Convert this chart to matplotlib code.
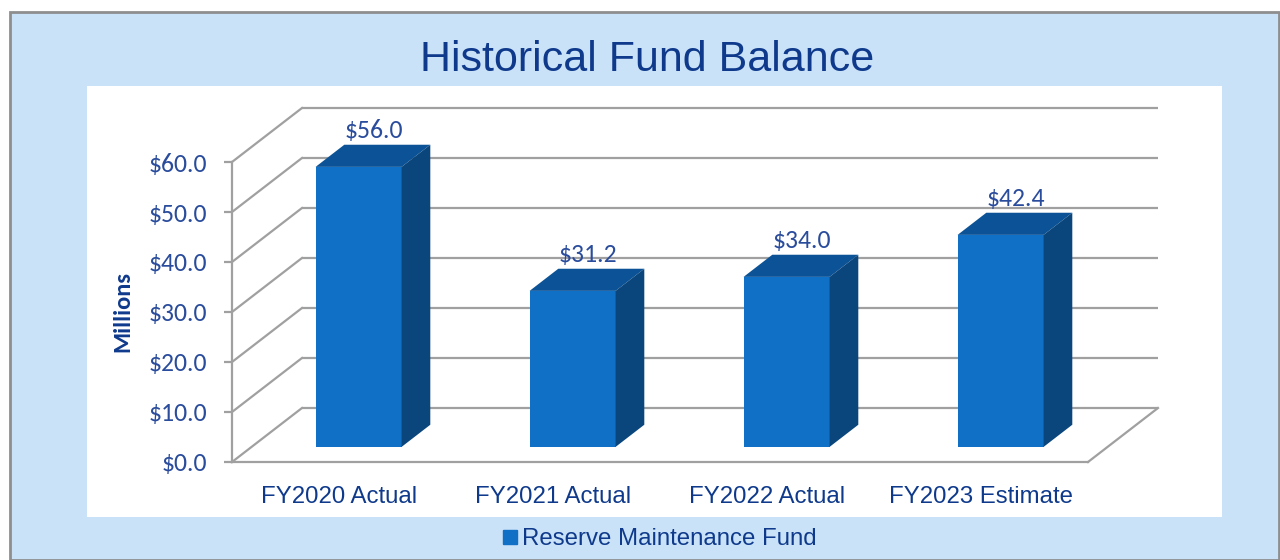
import matplotlib
matplotlib.use("Agg")
import matplotlib.pyplot as plt
from matplotlib.patches import Rectangle, Polygon
from matplotlib.lines import Line2D

# ---- data ----
categories = ["FY2020 Actual", "FY2021 Actual", "FY2022 Actual", "FY2023 Estimate"]
values = [56.0, 31.2, 34.0, 42.4]
value_labels = ["$56.0", "$31.2", "$34.0", "$42.4"]
yticks = [0, 10, 20, 30, 40, 50, 60]
ytick_labels = ["$0.0", "$10.0", "$20.0", "$30.0", "$40.0", "$50.0", "$60.0"]
series_name = "Reserve Maintenance Fund"
title = "Historical Fund Balance"
ylabel = "Millions"

# ---- style ----
W, H = 1280, 560
panel_color = "#C9E2F8"
border_color = "#8E8E8E"
grid_color = "#A0A0A0"
text_navy = "#0F3A8C"
tick_color = "#2A4C9C"
front_c = "#1070C6"
top_c = "#0B5396"
side_c = "#0A457C"
sans = ["Liberation Sans", "DejaVu Sans"]
num_font = ["Carlito", "DejaVu Sans"]

fig = plt.figure(figsize=(W / 100, H / 100), dpi=100)
fig.patch.set_facecolor("white")


def fx(px):
    return px / W


def fy(py):
    return 1 - py / H


fig.patches.append(Rectangle((fx(10), 0), fx(1279) - fx(10), fy(12), transform=fig.transFigure,
                             facecolor=panel_color, edgecolor=border_color, linewidth=2, zorder=0))
fig.patches.append(Rectangle((fx(87), fy(517)), fx(1222) - fx(87), fy(86) - fy(517),
                             transform=fig.transFigure, facecolor="white", edgecolor="none", zorder=0))

# main axes = front wall of the 3D box
ax = fig.add_axes([fx(232), fy(462), fx(1088) - fx(232), fy(162) - fy(462)])
ax.set_zorder(2)
ax.set_facecolor("none")
ax.set_xlim(-0.5, len(categories) - 0.5)
ax.set_ylim(0, 60)

DX = 70 / 214.0   # depth offset in category units
DY = 54 / 5.0     # depth offset in value units
f0, fd = 0.28, 0.41  # bar depth start / depth fraction
bw = 86 / 214.0

x0, x1 = -0.5, len(categories) - 0.5
lw = 1.6
for v in yticks:
    ax.plot([x0 + DX, x1 + DX], [v + DY, v + DY], color=grid_color, lw=lw, clip_on=False, zorder=1,
            solid_capstyle="butt")
    ax.plot([x0, x0 + DX], [v, v + DY], color=grid_color, lw=lw, clip_on=False, zorder=1)
ax.plot([x0, x1], [0, 0], color=grid_color, lw=lw, clip_on=False, zorder=1)
ax.plot([x1, x1 + DX], [0, DY], color=grid_color, lw=lw, clip_on=False, zorder=1)

for i, v in enumerate(values):
    cx = i + f0 * DX
    by = f0 * DY
    xl, xr = cx - bw / 2, cx + bw / 2
    ddx, ddy = fd * DX, fd * DY
    ax.add_patch(Polygon([(xl, by), (xr, by), (xr, by + v), (xl, by + v)], closed=True,
                         facecolor=front_c, edgecolor="none", clip_on=False, zorder=3))
    ax.add_patch(Polygon([(xl, by + v), (xr, by + v), (xr + ddx, by + v + ddy), (xl + ddx, by + v + ddy)],
                         closed=True, facecolor=top_c, edgecolor="none", clip_on=False, zorder=3))
    ax.add_patch(Polygon([(xr, by), (xr + ddx, by + ddy), (xr + ddx, by + v + ddy), (xr, by + v)],
                         closed=True, facecolor=side_c, edgecolor="none", clip_on=False, zorder=3))
    ax.text(i + 0.165, v + 10.3, value_labels[i], ha="center", va="center", fontsize=18.5,
            color=tick_color, family=num_font, clip_on=False, zorder=4)

for s in ["top", "right", "bottom"]:
    ax.spines[s].set_visible(False)
ax.spines["left"].set_color(grid_color)
ax.spines["left"].set_linewidth(lw)
ax.set_yticks(yticks)
ax.set_yticklabels(ytick_labels, family=num_font, fontsize=18.5, color=tick_color)
ax.tick_params(axis="y", length=6, width=lw, color=grid_color, pad=12)
ax.set_xticks(range(len(categories)))
ax.set_xticklabels(categories, family=sans, fontsize=17.3, color=text_navy)
ax.tick_params(axis="x", length=0, pad=17)
ax.set_ylabel(ylabel, family=num_font, fontsize=17.5, fontweight="bold", color=text_navy, labelpad=11)

fig.text(fx(647), fy(60), title, ha="center", va="center", fontsize=31, color=text_navy, family=sans)

handle = Line2D([], [], marker="s", linestyle="none", color=front_c, markersize=10)
fig.legend([handle], [series_name], loc="center", bbox_to_anchor=(fx(659), fy(539)), frameon=False,
           prop={"family": sans, "size": 17.3}, labelcolor=text_navy, handletextpad=0.15,
           handlelength=0.7)

fig.savefig("out.png", dpi=100)
